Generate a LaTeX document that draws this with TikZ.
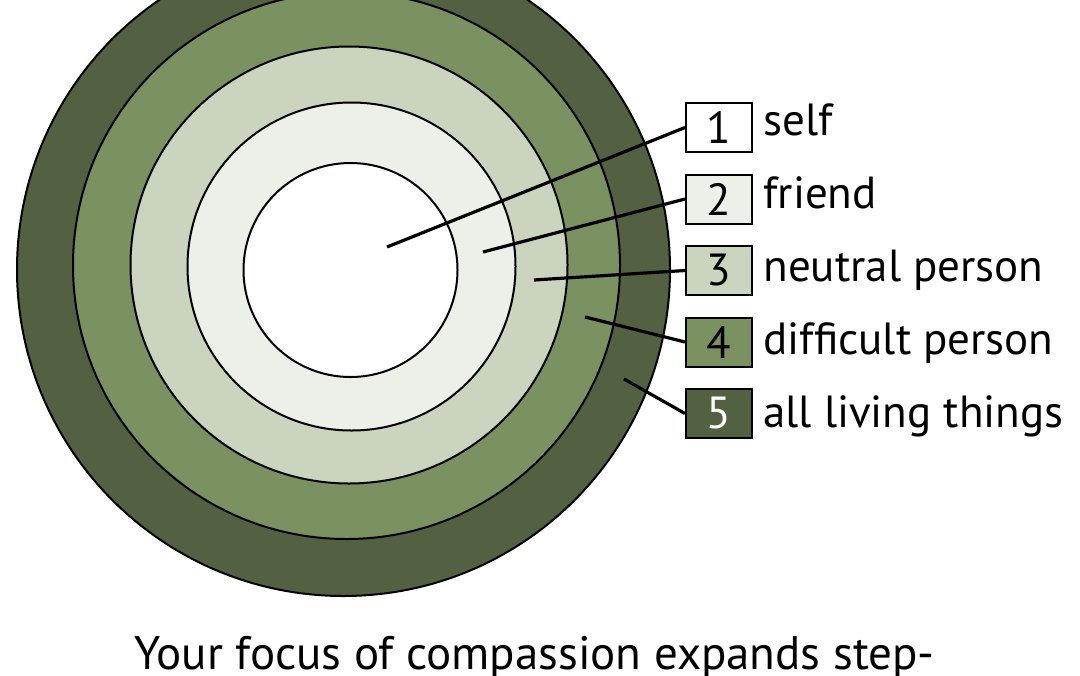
\documentclass[tikz,border=0pt]{standalone}
\usepackage{fontspec}
\setmainfont{PT Sans}
\usetikzlibrary{positioning}
\definecolor{ring1}{RGB}{255,255,255}
\definecolor{ring2}{RGB}{236,240,233}
\definecolor{ring3}{RGB}{202,212,191}
\definecolor{ring4}{RGB}{123,145,98}
\definecolor{ring5}{RGB}{83,97,66}
\tikzset{
	ring/.style={draw=black, line width=1pt},
	legbox/.style={draw=black, line width=1pt, minimum width=33pt, minimum height=24.5pt, inner sep=0pt, font=\fontsize{22.5}{26}\selectfont},
	legtext/.style={anchor=base west, inner sep=0pt, font=\fontsize{22.5}{26}\selectfont},
	leader/.style={line width=1.6pt}
}
\begin{document}
\begin{tikzpicture}[x=0.5pt,y=-0.5pt]
			\useasboundingbox (0,0) rectangle (1080,675);
			\begin{scope}
			\clip (0,0) rectangle (1080,675);
			\foreach \cx/\cy/\r/\c in {343.5/269.5/326.5/ring5, 346.5/265.5/273.5/ring4, 349/265/218.5/ring3, 351.5/266.5/164/ring2, 350.5/270/107/ring1}
				\draw[ring, fill=\c] (\cx,\cy) circle (\r);
			\end{scope}
			\foreach \i/\c/\t in {1/ring1/black, 2/ring2/black, 3/ring3/black, 4/ring4/black, 5/ring5/white}
				\node[legbox, fill=\c, text=\t] (b\i) at ({719},{127.5+71.5*(\i-1)}) {\i};
			\node[legtext] (t1) at (763,135.5) {self};
			\node[legtext] (t2) at (763,208.5) {friend};
			\node[legtext] (t3) at (763,281.5) {neutral person};
			\node[legtext] (t4) at (763,354.5) {difficult person};
			\node[legtext] (t5) at (763,427.5) {all living things};
			\coordinate (p1) at (387,247);
			\coordinate (p2) at (483,252);
			\coordinate (p3) at (534,280);
			\coordinate (p4) at (585,317);
			\coordinate (p5) at (624,379);
			\foreach \i in {1,...,5}
				\draw[leader] (p\i) -- (b\i.west);
			\node[anchor=base, inner sep=0pt, font=\fontsize{23.5}{28}\selectfont] (cap) at (534.5,669) {Your focus of compassion expands step-};
\end{tikzpicture}
\end{document}
